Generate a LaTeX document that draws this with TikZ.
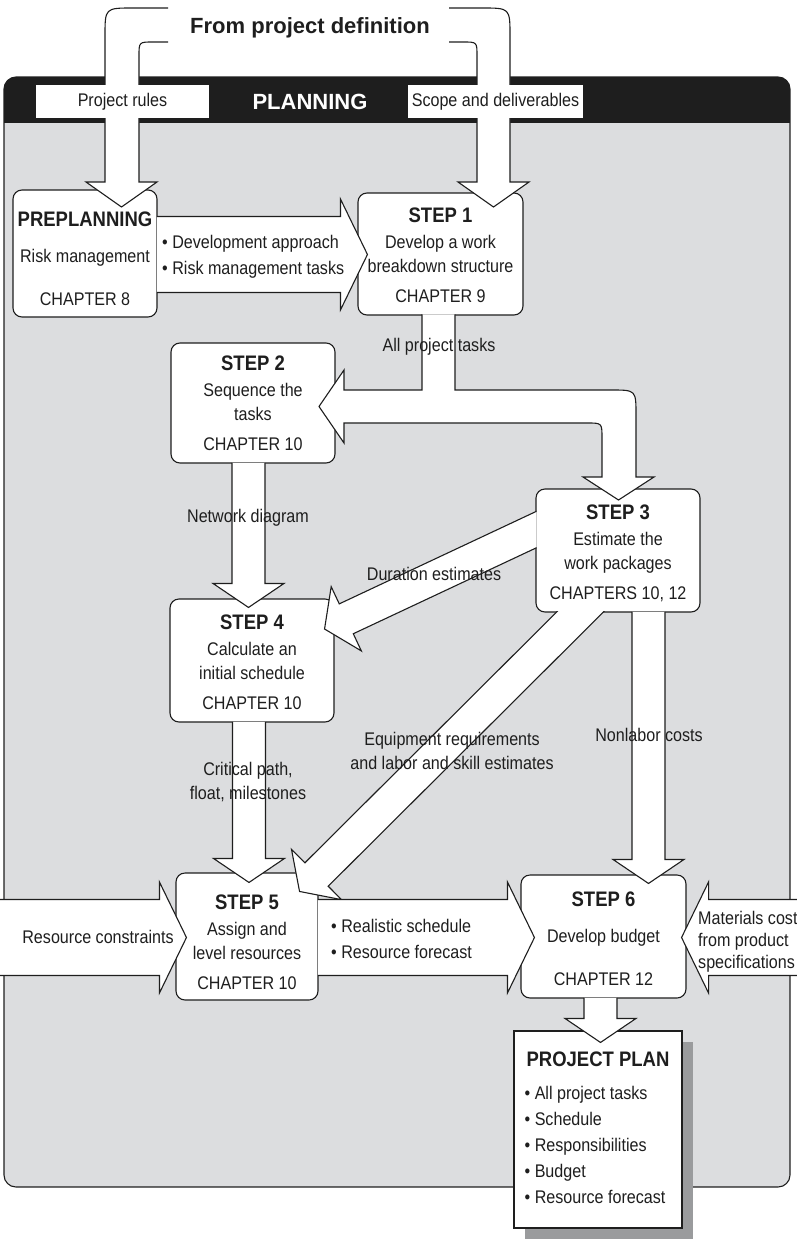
\documentclass[tikz,border=0pt]{standalone}
\usepackage{fontspec}
\setmainfont{Liberation Sans}[FakeStretch=0.88]
\newfontfamily\widesans{Liberation Sans}
\usetikzlibrary{calc,positioning}

\definecolor{linec}{HTML}{1E1E1E}
\definecolor{panelgray}{HTML}{DCDDDF}
\definecolor{shadowgray}{HTML}{9A9B9D}

% heading line of a step box, with a strut of #1 pt
\newcommand{\stephead}[2]{\rule{0pt}{#1pt}{\fontsize{21}{24}\selectfont\bfseries #2}}
% block arrow: from, tip, shaft half width, head half width, head length
\newcommand{\blockarrow}[5]{%
  \coordinate (bh) at ($(#2)!#5!(#1)$);
  \draw[fatarrow] ($(#1)!#3!90:(#2)$) -- ($(bh)!#3!-90:(#1)$)
    -- ($(bh)!#4!-90:(#1)$) -- (#2) -- ($(bh)!#4!90:(#1)$)
    -- ($(bh)!#3!90:(#1)$) -- ($(#1)!#3!-90:(#2)$);}
\newcommand{\thinarrow}[2]{\blockarrow{#1}{#2}{16.5pt}{35.5pt}{24pt}}
\newcommand{\widearrow}[2]{\blockarrow{#1}{#2}{38pt}{55.5pt}{27pt}}

\begin{document}
\begin{tikzpicture}[x=1pt,y=-1pt,font=\fontsize{18.3}{24}\selectfont,
  stepbox/.style={draw=linec,fill=white,line width=1.1pt,rounded corners=9pt,
    align=center,inner sep=0pt,text=linec},
  fatarrow/.style={draw=linec,fill=white,line width=1.1pt,line join=miter},
  lbl/.style={inner sep=0pt,text=linec,align=center},
  tag/.style={fill=white,inner sep=0pt,minimum height=33pt,text=linec}]
  \useasboundingbox (0,0) rectangle (796,1239);

  % planning panel
  \begin{scope}
    \clip[rounded corners=12pt] (4,77) rectangle (790,1187);
    \fill[panelgray] (4,77) rectangle (790,1187);
    \fill[linec] (4,77) rectangle (790,123);
  \end{scope}
  \draw[linec,line width=1.1pt,rounded corners=12pt] (4,77) rectangle (790,1187);
  \fill[shadowgray] (525,1042) rectangle (693,1239);

  % boxes
  \node[stepbox,minimum width=144pt,minimum height=127pt] (pre) at (85,253.5)
    {\stephead{26}{PREPLANNING}\\[12pt]Risk management\\[19pt]CHAPTER 8};
  \node[stepbox,minimum width=165pt,minimum height=122pt] (s1) at (440.5,254)
    {\stephead{18}{STEP 1}\\[2pt]Develop a work\\breakdown structure\\[6pt]CHAPTER 9};
  \node[stepbox,minimum width=164pt,minimum height=120pt] (s2) at (253,403)
    {\stephead{14}{STEP 2}\\[2pt]Sequence the\\tasks\\[6pt]CHAPTER 10};
  \node[stepbox,minimum width=164pt,minimum height=123pt] (s3) at (618,550.5)
    {\stephead{21}{STEP 3}\\[2pt]Estimate the\\work packages\\[6pt]CHAPTERS 10, 12};
  \node[stepbox,minimum width=164pt,minimum height=123pt] (s4) at (252,660.5)
    {\stephead{19}{STEP 4}\\[2pt]Calculate an\\initial schedule\\[6pt]CHAPTER 10};
  \node[stepbox,minimum width=142pt,minimum height=127pt] (s5) at (247,936.5)
    {\stephead{27}{STEP 5}\\[2pt]Assign and\\level resources\\[6pt]CHAPTER 10};
  \node[stepbox,minimum width=165pt,minimum height=123pt] (s6) at (603.5,936.5)
    {\stephead{20}{STEP 6}\\[12pt]Develop budget\\[19pt]CHAPTER 12};
  \node[draw=linec,fill=white,line width=1.1pt,inner sep=0pt,
    minimum width=168pt,minimum height=197pt] (plan) at (598,1129.5) {};
  \node[lbl,anchor=base,font=\fontsize{21}{24}\selectfont\bfseries] (planhd)
    at ([yshift=-36pt]plan.north) {PROJECT PLAN};
  \node[lbl,anchor=north west,align=left,font=\fontsize{18.3}{26}\selectfont] (planlist)
    at ([xshift=11pt,yshift=-56pt]plan.north west)
    {\textbullet\ All project tasks\\\textbullet\ Schedule\\\textbullet\ Responsibilities\\
     \textbullet\ Budget\\\textbullet\ Resource forecast};

  % from project definition
  \draw[fatarrow] (168,8) -- (133,8) .. controls (105,8) .. (105,36) -- (105,182)
    -- (86,182) -- (121.5,207) -- (157,182) -- (139,182) -- (139,56)
    .. controls (139,42) .. (153,42) -- (168,42);
  \draw[fatarrow] (449,8) -- (482,8) .. controls (510,8) .. (510,36) -- (510,182)
    -- (529,182) -- (493.5,207) -- (458,182) -- (477,182) -- (477,56)
    .. controls (477,42) .. (463,42) -- (449,42);
  \node[lbl,anchor=base,font=\widesans\bfseries\fontsize{22}{26}\selectfont] (title)
    at (310,34) {From project definition};
  \node[tag,minimum width=173pt] (rules) at (122.5,101.5) {Project rules};
  \node[tag,minimum width=175pt] (scope) at (495.5,101.5) {Scope and deliverables};
  \node[lbl,text=white,font=\widesans\bfseries\fontsize{22}{26}\selectfont] (planning)
    at (310,101.5) {PLANNING};

  % all project tasks, split to step 2 and step 3
  \draw[fatarrow] (422,314.4) -- (422,390) -- (344,390) -- (344,370) -- (319,406.5)
    -- (344,443) -- (344,423) -- (587,423) .. controls (602,423) .. (602,438)
    -- (602,477) -- (583,477) -- (618.5,500) -- (654,477) -- (636,477) -- (636,415)
    .. controls (636,390) .. (611,390) -- (455,390) -- (455,314.4);

  % straight arrows
  \coordinate (preOut) at ([xshift=-0.6pt,yshift=-1pt]pre.east);
  \coordinate (s1In) at ([xshift=10pt,yshift=-0.5pt]s1.west);
  \widearrow{preOut}{s1In}
  \coordinate (n2) at ([xshift=-4.5pt,yshift=0.6pt]s2.south);
  \coordinate (n4) at ([xshift=-3.5pt,yshift=-9pt]s4.north);
  \thinarrow{n2}{n4}
  \coordinate (c4) at ([xshift=-3pt,yshift=0.6pt]s4.south);
  \coordinate (c5) at ([xshift=2pt,yshift=-10pt]s5.north);
  \thinarrow{c4}{c5}
  \coordinate (nl3) at ([xshift=30.5pt,yshift=0.6pt]s3.south);
  \coordinate (nl6) at ([xshift=45pt,yshift=-9pt]s6.north);
  \thinarrow{nl3}{nl6}
  \coordinate (b6) at ([xshift=-3pt,yshift=0.6pt]s6.south);
  \coordinate (bp) at ([xshift=2.5pt,yshift=-12pt]plan.north);
  \thinarrow{b6}{bp}

  % diagonal arrows out of step 3
  \coordinate (durEdge) at ([yshift=20.5pt]s3.west);
  \coordinate (durTip) at ([xshift=-10pt,yshift=31.5pt]s4.east);
  \coordinate (durOut) at ($(durTip)!1.06!(durEdge)$);
  \begin{scope}
    \clip (0,0) rectangle (536.6,1239);
    \thinarrow{durOut}{durTip}
  \end{scope}
  \coordinate (eqEdge) at ([xshift=-38.5pt]s3.south);
  \coordinate (eqTip) at ([xshift=-19pt,yshift=-19pt]s5.north east);
  \coordinate (eqOut) at ($(eqTip)!1.06!(eqEdge)$);
  \begin{scope}
    \clip (0,611.4) rectangle (796,1239);
    \thinarrow{eqOut}{eqTip}
  \end{scope}

  % wide arrows into steps 5 and 6
  \coordinate (r5) at ([xshift=-0.6pt,yshift=-1pt]s5.east);
  \coordinate (r6) at ([xshift=14pt,yshift=-1pt]s6.west);
  \widearrow{r5}{r6}
  \coordinate (rcOut) at (-20,937.5);
  \coordinate (rcIn) at ([xshift=11pt,yshift=-1pt]s5.west);
  \widearrow{rcOut}{rcIn}
  \coordinate (mcOut) at (820,937.5);
  \coordinate (mcIn) at ([xshift=-5pt,yshift=-1pt]s6.east);
  \widearrow{mcOut}{mcIn}

  % labels
  \node[lbl,anchor=base] (lblTasks) at (439,351.5) {All project tasks};
  \node[lbl,anchor=base] (lblNet) at (248,522.5) {Network diagram};
  \node[lbl,anchor=base] (lblDur) at (434,580.5) {Duration estimates};
  \node[lbl] (lblCrit) at (248,782) {Critical path,\\float, milestones};
  \node[lbl] (lblEquip) at (452,750.5) {Equipment requirements\\and labor and skill estimates};
  \node[lbl,anchor=base] (lblNonlab) at (649,741.5) {Nonlabor costs};
  \node[lbl,anchor=base] (lblRes) at (98,943.5) {Resource constraints};
  \node[lbl,anchor=west,align=left,font=\fontsize{18.3}{26}\selectfont] (lblPre)
    at (162,256.7) {\textbullet\ Development approach\\\textbullet\ Risk management tasks};
  \node[lbl,anchor=west,align=left,font=\fontsize{18.3}{26}\selectfont] (lblReal)
    at (331,939) {\textbullet\ Realistic schedule\\\textbullet\ Resource forecast};
  \node[lbl,anchor=west,align=left,font=\fontsize{18.3}{22}\selectfont] (lblMat)
    at (698,941.7) {Materials cost\\from product\\specifications};
\end{tikzpicture}
\end{document}
